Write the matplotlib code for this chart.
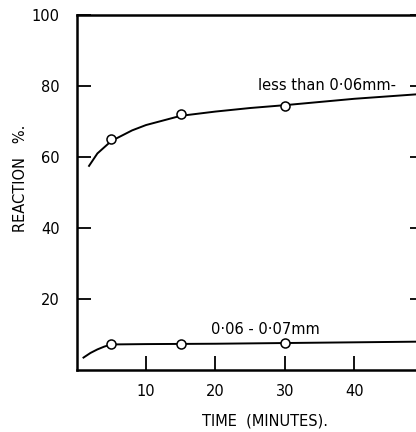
import matplotlib
matplotlib.use("Agg")
import matplotlib.pyplot as plt

# measured points (open circles)
pt_time = [5, 15, 30]
fine_pts = [65, 72, 74.5]
coarse_pts = [7.3, 7.4, 7.6]

# hand drawn smooth curves
curve_time_fine = [1.8, 3, 5, 8, 10, 15, 20, 25, 30, 40, 50]
curve_fine = [57.5, 61, 64.5, 67.5, 69, 71.6, 72.8, 73.8, 74.6, 76.4, 77.8]
curve_time_coarse = [1, 2, 3, 4, 5, 10, 20, 30, 40, 50]
curve_coarse = [3.5, 4.8, 5.8, 6.6, 7.2, 7.3, 7.4, 7.6, 7.8, 8.0]

xticks = [10, 20, 30, 40]
yticks = [20, 40, 60, 80, 100]

plt.rcParams['font.family'] = ['DejaVu Sans']
fig = plt.figure(figsize=(4.16, 4.32), dpi=100)
ax = fig.add_axes([0.184, 0.1435, 0.835, 0.8218])

ax.plot(curve_time_fine, curve_fine, color="black", lw=1.4)
ax.plot(curve_time_coarse, curve_coarse, color="black", lw=1.4)
ax.plot(pt_time, fine_pts, "o", mfc="white", mec="black", ms=6.5, mew=1.1)
ax.plot(pt_time, coarse_pts, "o", mfc="white", mec="black", ms=6.5, mew=1.1)

ax.text(26.1, 80, "less than 0·06mm-", fontsize=10.5, va="center", ha="left")
ax.text(19.4, 11.5, "0·06 - 0·07mm", fontsize=10.5, va="center", ha="left")

ax.set_xlim(0, 50)
ax.set_ylim(0, 100)
ax.set_xticks(xticks)
ax.set_yticks(yticks)
ax.set_yticklabels(["20", "40", "60", "80", "100"])
ax.tick_params(direction="in", length=10, width=1.3, labelsize=10.5,
               right=True)
ax.tick_params(axis="x", pad=10)
ax.tick_params(axis="y", pad=12)
for s in ax.spines.values():
    s.set_linewidth(1.8)

fig.text(0.637, 0.025, "TIME  (MINUTES).", fontsize=10.5, ha="center", va="center")
fig.text(0.05, 0.588, "REACTION   %.", fontsize=10.5, ha="center", va="center",
         rotation=90)

fig.savefig("out.png", dpi=100)
